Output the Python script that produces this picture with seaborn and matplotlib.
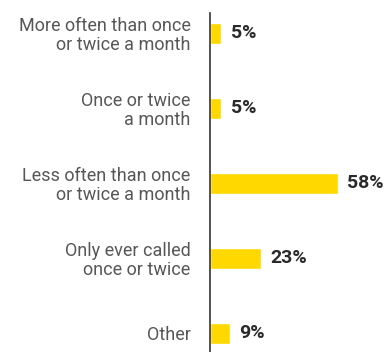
import matplotlib
matplotlib.use("Agg")
import matplotlib.pyplot as plt
import seaborn as sns
import pandas as pd

categories = [
    "More often than once\nor twice a month",
    "Once or twice\na month",
    "Less often than once\nor twice a month",
    "Only ever called\nonce or twice",
    "Other",
]
values = [5, 5, 58, 23, 9]

df = pd.DataFrame({"category": categories, "share": values})

sns.set_theme(style="white")
plt.rcParams["font.family"] = ["Roboto", "DejaVu Sans"]

DPI = 100
fig = plt.figure(figsize=(3.9, 3.52), dpi=DPI)
ax = fig.add_axes([210 / 390, 0.0, 180 / 390, 1 - 13 / 352])

sns.barplot(data=df, y="category", x="share", orient="h", color="#FFD800",
            saturation=1, width=0.28, ax=ax)

ax.set_xlim(0, 81.8)
ax.set_ylim(4.253, -0.267)
ax.set_xlabel("")
ax.set_ylabel("")
ax.set_xticks([])
ax.tick_params(axis="y", length=0, pad=14, labelsize=13, labelcolor="#575757")
for lbl in ax.get_yticklabels():
    lbl.set_horizontalalignment("right")
    lbl.set_linespacing(1.05)

for s in ["top", "right", "bottom"]:
    ax.spines[s].set_visible(False)
ax.spines["left"].set_color("#333333")
ax.spines["left"].set_linewidth(1.2)

for i, v in enumerate(values):
    ax.annotate(f"{v}%", xy=(v, i), xytext=(7, 0), textcoords="offset points",
                va="center", ha="left", fontsize=14, fontweight="bold",
                color="#2a2a2a")

fig.savefig("out.png", dpi=DPI)
